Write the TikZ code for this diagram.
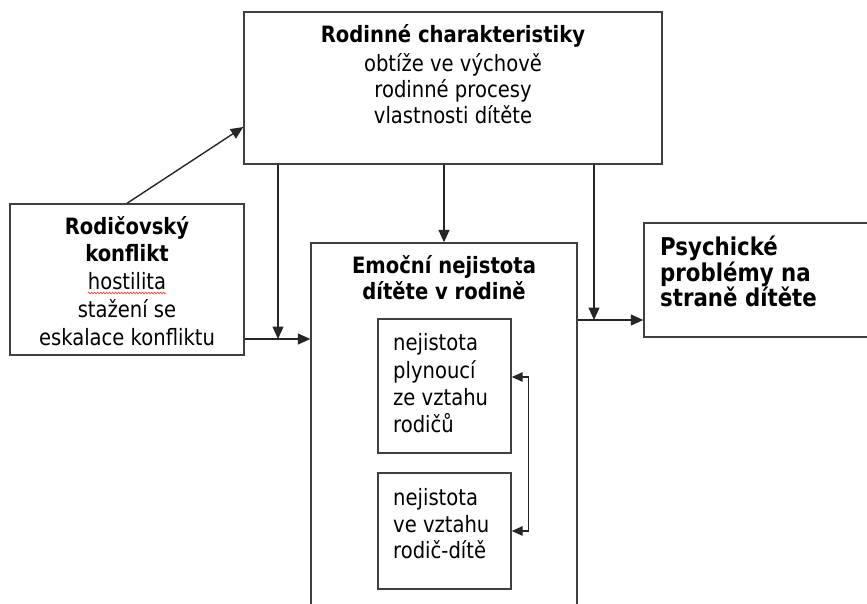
\documentclass[tikz,border=0pt]{standalone}
\usepackage{fontspec}
\setmainfont{DejaVu Sans}[FakeStretch=0.87]
\usetikzlibrary{arrows.meta,calc,decorations.pathmorphing}
\begin{document}
\begin{tikzpicture}[x=1pt,y=-1pt,
  box/.style={draw=black!75,line width=1.4pt,inner sep=0pt,fill=none},
  txt/.style={inner sep=0pt,font=\fontsize{22.5}{26}\selectfont},
  hd/.style={txt,font=\fontsize{22.5}{26}\selectfont\bfseries},
  bighd/.style={txt,font=\fontsize{24.5}{28}\selectfont\bfseries},
  tip/.tip={Triangle[length=12.5pt,width=11pt]},
  arr/.style={draw=black!85,line width=1.4pt,-tip},
  darr/.style={draw=black!85,line width=1.4pt,{Triangle[length=11pt,width=9.5pt]}-{Triangle[length=11pt,width=9.5pt]}}]
\useasboundingbox (0,0) rectangle (867,603);
\clip (0,0) rectangle (867,603);
% boxes
\node[box,minimum width=418pt,minimum height=152pt] (rod) at (453,88) {};
\node[box,minimum width=234pt,minimum height=151pt] (kon) at (127,279.5) {};
\node[box,minimum width=266pt,minimum height=377pt] (emo) at (444,431.5) {};
\node[box,minimum width=236pt,minimum height=114pt] (psy) at (762,280) {};
\node[box,minimum width=133pt,minimum height=134pt] (in1) at (444.5,386) {};
\node[box,minimum width=133pt,minimum height=116pt] (in2) at (444.5,531) {};
% texts: top box
\node[hd,anchor=base] (rodA) at (453,42) {Rodinné charakteristiky};
\node[txt,anchor=base] (rodB) at (453,71) {obtíže ve výchově};
\node[txt,anchor=base] (rodC) at (453,97) {rodinné procesy};
\node[txt,anchor=base] (rodD) at (453,123) {vlastnosti dítěte};
% left box
\node[hd,anchor=base] (konA) at (127,234) {Rodičovský};
\node[hd,anchor=base] (konB) at (127,261) {konflikt};
\node[txt,anchor=base] (konC) at (127,289) {hostilita};
\node[txt,anchor=base] (konD) at (127,317) {stažení se};
\node[txt,anchor=base] (konE) at (127,345) {eskalace konfliktu};
\draw[red!80,line width=0.6pt,decorate,decoration={snake,amplitude=0.9pt,segment length=3pt}]
  ([yshift=-4pt]konC.base west) -- ([yshift=-4pt]konC.base east);
% middle box
\node[hd,anchor=base] (emoA) at (444,273) {Emoční nejistota};
\node[hd,anchor=base] (emoB) at (444,299) {dítěte v rodině};
\node[txt,anchor=base west] (inA) at (393,350) {nejistota};
\node[txt,anchor=base west] (inB) at (393,378) {plynoucí};
\node[txt,anchor=base west] (inC) at (393,405) {ze vztahu};
\node[txt,anchor=base west] (inD) at (393,432) {rodičů};
\node[txt,anchor=base west] (inE) at (393,505) {nejistota};
\node[txt,anchor=base west] (inF) at (393,532) {ve vztahu};
\node[txt,anchor=base west] (inG) at (393,558) {rodič-dítě};
% right box
\node[bighd,anchor=base west] (psyA) at (660,255) {Psychické};
\node[bighd,anchor=base west] (psyB) at (660,281) {problémy na};
\node[bighd,anchor=base west] (psyC) at (660,306) {straně dítěte};
% junctions
\coordinate (j1) at (278,339);
\coordinate (j2) at (594,320);
% connectors
\draw[arr] (kon.north) -- ([yshift=-39pt]rod.west);
\draw[arr] (rod.south -| j1) -- (j1);
\draw[arr] (kon.east |- j1) -- (emo.west |- j1);
\draw[arr] (emo.north |- rod.south) -- (emo.north);
\draw[arr] (rod.south -| j2) -- (j2);
\draw[arr] (emo.east |- j2) -- (psy.west |- j2);
\draw[darr] ([yshift=9pt]in1.east) -- ++(17,0) |- (in2.east);
\end{tikzpicture}
\end{document}
